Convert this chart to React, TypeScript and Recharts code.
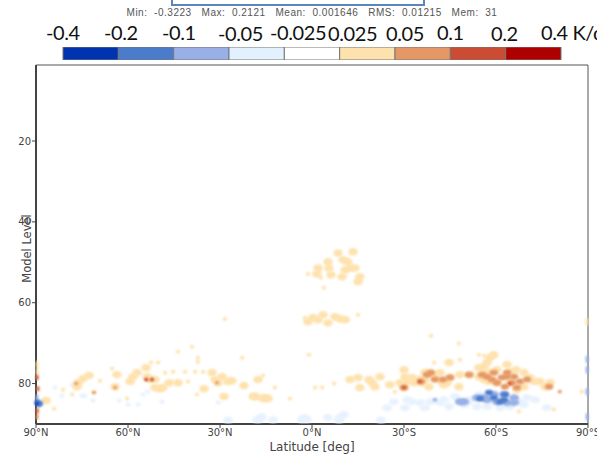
import { BarChart, Bar, XAxis, YAxis, ScatterChart, Scatter, ReferenceArea } from 'recharts';

type Pt = [number, number]; // latitude (+N / -S), model level

const latTicks = [90, 60, 30, 0, -30, -60, -90];
const latLabels = ['90°N', '60°N', '30°N', '0°N', '30°S', '60°S', '90°S'];
const levelTicks = [20, 40, 60, 80];
const statsText = 'Min:  -0.3223   Max:  0.2121   Mean:  0.001646   RMS:  0.01215   Mem:  31';

const barLabels = ['-0.4', '-0.2', '-0.1', '-0.05', '-0.025', '0.025', '0.05', '0.1', '0.2', '0.4 K/d'];
const barColors = ['#0033ad', '#4b7ccb', '#98b0e6', '#e3f0fd', '#ffffff', '#fee2ae', '#e59866', '#cb4c33', '#ae0000'];

// warm 0.025-0.05 patches
const paleWarm: Pt[] = [
  [-8.5, 47.7], [-10.1, 49.4], [-11.7, 49.9], [-10.8, 51.9], [-9.8, 53.6], [-12.4, 51.4], [-14, 51.4], [-15.6, 53.6],
  [-15, 54.8], [-13.4, 47.4], [-2, 51.4], [-1.6, 52.9], [-5.2, 49.9], [-5.5, 51.4], [-6.2, 53.1],
  [-0.3, 63.7], [1.3, 64.7], [-2, 64.2], [-5.2, 65], [-3.6, 63], [-7.5, 63.5], [-9.1, 64], [-10.8, 64.2],
  [76.3, 79.8], [74.7, 78.8], [72.7, 78], [76.6, 80.8], [63.6, 77.8], [64.2, 80.8], [58.4, 78.3], [59.3, 79.5], [57, 77.3],
  [53.8, 78.3], [52.8, 79], [51.2, 79], [54.1, 76.1], [46.6, 79.8], [49.6, 81.3], [51.2, 81], [48.6, 81],
  [43.7, 79.8], [32.6, 77.3], [29.3, 78.3], [31.6, 79], [30.6, 79.8], [26.1, 79.3], [27.4, 79.5], [35.2, 81.3], [22.2, 80.5],
  [17.6, 79], [19.2, 83.2], [18.3, 83.2], [28.7, 83.2], [15.3, 83.5], [14.3, 83.7], [16, 83.7], [86.7, 84.2],
  [-12.4, 79], [-15, 78.5], [-18.6, 79], [-19.6, 79.8], [-20.5, 80.8], [-22.2, 78.3], [-15.6, 81], [-25.4, 80.3],
  [-30, 76.6], [-30.3, 78.3], [-31, 79.5], [-28.7, 79.8], [-30, 81], [-32.6, 78.5], [-33.3, 79.8], [-34.9, 79], [-35.9, 79.8],
  [-36.8, 79], [-38.1, 80.8], [-36.8, 77.3], [-38.5, 77.3], [-40.1, 78.5], [-41.7, 77.3], [-42.4, 79.5], [-44, 79.8], [-45, 78.5],
  [-48.2, 77.8], [-43, 80.3], [-47.9, 80.8], [-44.7, 74.8], [-59.3, 72.9], [-58, 73.6], [-56.1, 75.8], [-54.4, 76.1], [-57.1, 74.8],
  [-51.5, 77.8], [-54.4, 78.3], [-56.1, 77.3], [-58, 77.3], [-60.3, 76.6], [-63.6, 75.3], [-64.5, 77.1], [-69.1, 77.3], [-71, 78.5],
  [-74.3, 79.5], [-77.6, 79.8], [-76, 80.8], [-60.3, 79.8], [-64.5, 79.8], [-69.1, 80.8], [-72.4, 79.5], [-66.8, 81.5], [-56.1, 79],
  [-57.7, 79.5], [-66.5, 76.6],
];

const paleWarmSpecks: Pt[] = [
  [1.3, 52.9], [-3.9, 56.3], [-2.9, 53.8], [-15, 63], [2.3, 63.7], [52.5, 74.8], [50.2, 74.8], [45.3, 77.1], [40.4, 79.5],
  [84.1, 86.2], [81.2, 81.5], [78.2, 82.7], [71.1, 82.2], [65.2, 76.3], [43.7, 72.1], [39.1, 70.9], [37.2, 73.6], [37.2, 74.6],
  [22.8, 73.6], [69.1, 79.3], [47.9, 77.3], [41.4, 77.1], [38.1, 77.1], [35.5, 77.1], [37.5, 82.7], [60.3, 83.7], [12.1, 81],
  [7.2, 83.7], [16, 78], [28.4, 64], [-1, 81], [-3.3, 81], [-7.2, 80], [1, 72.9], [-47.9, 70.1], [-48.2, 74.1], [-54.4, 72.9],
  [-56.1, 73.1], [-88, 82], [-38.8, 68.2], [-39.8, 74.8], [-78.9, 86.4], [-67.5, 86.9], [-27, 82],
];

// warm 0.05-0.1
const midWarm: Pt[] = [
  [-37.5, 77.8], [-38.8, 77.3], [-35.5, 79.5], [-30, 81], [-40.1, 79], [-42.7, 79], [-45, 78.5], [-51.2, 77.8],
  [-55.4, 77.8], [-57.1, 78.3], [-58.7, 79], [-60.3, 79.8], [-61.9, 78.5], [-63.6, 77.3], [-65.9, 78.3], [-67.8, 79.5], [-70.1, 79],
  [-65.2, 79.8], [-62.9, 80.8], [-66.8, 81], [-59.3, 77.3], [-63.6, 78.3], [-77.3, 80.8],
];

const midWarmSpecks: Pt[] = [
  [76.9, 80], [64.2, 81], [54.1, 79], [52.2, 79], [71.1, 82.2], [31, 79.8], [-80.8, 82],
];

// warm 0.1-0.2
const strongWarm: Pt[] = [
  [-64.5, 80], [-35.2, 79.5], [-30, 81], [54, 79], [52.2, 79],
];

// cool -0.05 - -0.025
const paleCool: Pt[] = [
  [-31, 84], [-30.3, 86], [-32.6, 84.5], [-35.2, 84.7], [-36.8, 86], [-24.5, 86], [-26.7, 84.5], [-38.5, 84.5], [-41.7, 84.7],
  [-44.7, 85.7], [-43, 84], [-46.6, 83.2], [-49.6, 85.2], [-51.5, 84], [-50.5, 84.7], [-54.8, 82.7], [-53.8, 85.7], [-57.1, 85.7],
  [-61.3, 86], [-64.5, 85.7], [-67.8, 84.5], [-70.1, 83.5], [-72.7, 84], [-69.1, 85.2], [-76.6, 86], [2.3, 88.4], [3.3, 88.9],
  [1.6, 88.9], [-5.2, 88.4], [-9.1, 88.4], [-10.4, 87.7], [-8.8, 89], [-22.5, 89], [27.4, 89], [17, 88.7], [17.9, 88.9],
  [16.3, 88.2], [12.7, 88.9],
];

const paleCoolSpecks: Pt[] = [
  [83.8, 81], [78.2, 80.3], [81.5, 83], [75, 83], [74, 83], [71.4, 84.2], [62.9, 84.2], [60, 85.2], [55.1, 82.7], [53.5, 82],
  [48.9, 84.5], [56.7, 85.2], [30.6, 84.7],
];

// cool -0.1 - -0.05
const midCool: Pt[] = [
  [-49.6, 84.5], [-48.2, 84.5], [-53.8, 83.5], [-56.1, 83.5], [-59.3, 82.7], [-62.6, 82.7], [-65.9, 83.5], [-60.3, 84.5],
  [-63.6, 84.7], [-57.1, 84], [-65.9, 84.7],
];

const midCoolSpecks: Pt[] = [[-40.1, 84]];

// cool -0.2 - -0.1
const strongCool: Pt[] = [
  [-54.8, 83.7], [-57.7, 82.2], [-59.3, 83.5], [-62.6, 84], [-62.9, 82.7], [-61.3, 84.5],
];

// narrow columns hugging the two poles
const edgeWarmPale: Pt[] = [[89.6, 75.3], [89.6, 77.1], [-89.6, 64.7]];
const edgeWarmMid: Pt[] = [[89.6, 78.5], [89.3, 81.3], [89.5, 86.7], [89.6, 88.2]];
const edgeWarmStrong: Pt[] = [[89.7, 78.5], [89.7, 86.8], [89.5, 81.3]];
const edgeCoolMid: Pt[] = [[89.3, 85], [89.7, 83.5], [-89.7, 74], [-89.7, 76.6], [-89.7, 82], [-89.7, 88.2]];
const edgeCoolStrong: Pt[] = [[89.6, 84.7], [88.7, 85]];
const edgeCoolDeep: Pt[] = [[89.7, 85]];

const toRows = (pts: Pt[]) => pts.map(([lat, level]) => ({ lat, level }));

const blob = (rx: number, ry: number, fill: string) => (props: any) =>
  <ellipse cx={props.cx} cy={props.cy} rx={rx} ry={ry} fill={fill} style={{ filter: 'blur(0.8px)' }} />;

// label placement above the colour bar: left edge of each text, vertical centre
const labelPos = [
  [46, 32], [104, 32], [162, 32], [218, 33], [270, 32], [328, 33], [386, 33], [437, 32], [491, 33], [541, 32],
];

const barRow = [Object.fromEntries(barColors.map((_, i) => [`seg${i}`, 1]))];

const series: { key: string; pts: Pt[]; rx: number; ry: number; fill: string }[] = [
  { key: 'paleCool', pts: paleCool, rx: 5, ry: 3.6, fill: '#e8f2fe' },
  { key: 'paleCoolSpecks', pts: paleCoolSpecks, rx: 2.6, ry: 2.2, fill: '#e8f2fe' },
  { key: 'paleWarm', pts: paleWarm, rx: 4.8, ry: 3.8, fill: barColors[5] },
  { key: 'paleWarmSpecks', pts: paleWarmSpecks, rx: 2.2, ry: 2, fill: barColors[5] },
  { key: 'midCool', pts: midCool, rx: 5, ry: 3.4, fill: barColors[2] },
  { key: 'midCoolSpecks', pts: midCoolSpecks, rx: 2.4, ry: 2, fill: barColors[2] },
  { key: 'midWarm', pts: midWarm, rx: 4.2, ry: 3, fill: barColors[6] },
  { key: 'midWarmSpecks', pts: midWarmSpecks, rx: 2, ry: 1.8, fill: barColors[6] },
  { key: 'strongCool', pts: strongCool, rx: 4, ry: 2.8, fill: barColors[1] },
  { key: 'strongWarm', pts: strongWarm, rx: 1.8, ry: 1.5, fill: barColors[7] },
  { key: 'edgeWarmPale', pts: edgeWarmPale, rx: 1.5, ry: 4, fill: barColors[5] },
  { key: 'edgeWarmMid', pts: edgeWarmMid, rx: 1.5, ry: 3, fill: barColors[6] },
  { key: 'edgeWarmStrong', pts: edgeWarmStrong, rx: 1, ry: 2, fill: barColors[7] },
  { key: 'edgeCoolMid', pts: edgeCoolMid, rx: 1.5, ry: 4, fill: barColors[2] },
  { key: 'edgeCoolStrong', pts: edgeCoolStrong, rx: 3, ry: 3, fill: barColors[1] },
  { key: 'edgeCoolDeep', pts: edgeCoolDeep, rx: 1.5, ry: 2, fill: barColors[0] },
];

export default function App() {
  return (
    <div style={{ position: 'absolute', left: 0, top: 0, width: 597, height: 458, overflow: 'hidden', background: '#fff' }}>
      <div style={{ position: 'absolute', left: 171, top: -12, width: 250, height: 14, border: '2px solid #5b86bd' }} />
      <div style={{ position: 'absolute', left: 0, width: 624, top: 7, textAlign: 'center', whiteSpace: 'pre', fontFamily: 'Liberation Sans', fontSize: 10, letterSpacing: 0.52, color: '#555' }}>
        {statsText}
      </div>
      {barLabels.map((t, i) => (
        <div key={t} style={{ position: 'absolute', left: labelPos[i][0], top: labelPos[i][1] - 13, whiteSpace: 'pre', fontFamily: 'Lato', fontSize: 20, letterSpacing: -0.4, lineHeight: '26px', color: '#111' }}>
          {t}
        </div>
      ))}
      <div style={{ position: 'absolute', left: 62, top: 47 }}>
        <BarChart width={500} height={13} data={barRow} layout="vertical" margin={{ top: 0, right: 1, bottom: 0, left: 1 }} barCategoryGap={0}>
          <XAxis type="number" hide domain={[0, barColors.length]} />
          <YAxis type="category" hide />
          {barColors.map((c, i) => (
            <Bar key={c} dataKey={`seg${i}`} stackId="bar" fill={c} stroke="#777" strokeWidth={1} isAnimationActive={false} />
          ))}
        </BarChart>
      </div>
      <ScatterChart width={597} height={458} margin={{ top: 65, right: 9, bottom: 0, left: 0 }} style={{ position: 'absolute', left: 0, top: 0 }}>
        <XAxis
          dataKey="lat"
          type="number"
          domain={[-90, 90]}
          reversed
          ticks={latTicks}
          interval={0}
          height={34}
          tickSize={4}
          tickMargin={1}
          axisLine={{ stroke: '#444', strokeWidth: 2 }}
          tickLine={{ stroke: '#444' }}
          tick={{ fontFamily: 'DejaVu Sans', fontSize: 10, fill: '#444' }}
          tickFormatter={(v: number) => latLabels[latTicks.indexOf(v)]}
          label={{ value: 'Latitude [deg]', position: 'insideBottom', offset: 7, style: { fontFamily: 'DejaVu Sans', fontSize: 12, fill: '#444' } }}
        />
        <YAxis
          dataKey="level"
          type="number"
          domain={[1.2, 90]}
          allowDataOverflow
          reversed
          ticks={levelTicks}
          interval={0}
          width={36}
          tickSize={4}
          tickMargin={1}
          axisLine={{ stroke: '#444', strokeWidth: 2 }}
          tickLine={{ stroke: '#444' }}
          tick={{ fontFamily: 'DejaVu Sans', fontSize: 10, fill: '#444' }}
          label={{ value: 'Model Level', angle: -90, position: 'insideLeft', offset: 27, dy: 4, style: { fontFamily: 'DejaVu Sans', fontSize: 11.5, fill: '#444', textAnchor: 'middle' } }}
        />
        <ReferenceArea x1={-90} x2={90} y1={1.2} y2={90} fill="none" stroke="#555" strokeWidth={1} ifOverflow="visible" />
        {series.map((s) => (
          <Scatter key={s.key} name={s.key} data={toRows(s.pts)} dataKey="level" shape={blob(s.rx, s.ry, s.fill)} isAnimationActive={false} />
        ))}
      </ScatterChart>
    </div>
  );
}
